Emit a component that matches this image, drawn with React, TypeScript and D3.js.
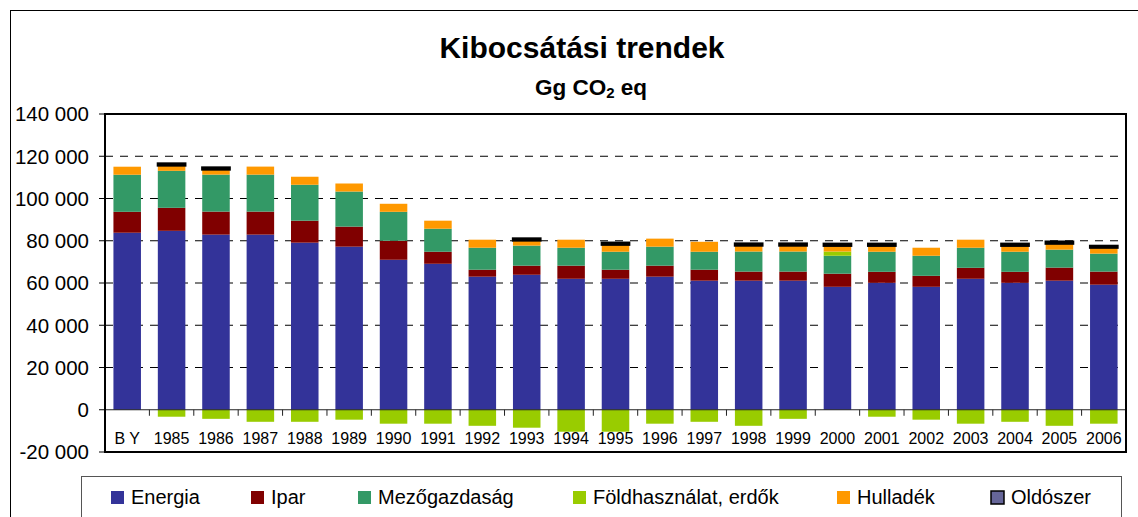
import { scaleBand, scaleLinear, stack, stackOffsetDiverging, formatLocale, range } from "d3";

const width = 1138;
const height = 517;

const categories = ["B Y", "1985", "1986", "1987", "1988", "1989", "1990", "1991", "1992", "1993", "1994", "1995", "1996", "1997", "1998", "1999", "2000", "2001", "2002", "2003", "2004", "2005", "2006"];

const energia = [83800, 84700, 82900, 82900, 79100, 77200, 71000, 69100, 63000, 63900, 62000, 62000, 63000, 61100, 61100, 61100, 58200, 60100, 58200, 62000, 60100, 61100, 59200];
const ipar = [9900, 10900, 10900, 10900, 10400, 9500, 9000, 5700, 3300, 4300, 6200, 4300, 5200, 5200, 4300, 4300, 6200, 5200, 5200, 5200, 5200, 6200, 6200];
const mezogazdasag = [17550, 17500, 17500, 17500, 17000, 16600, 13700, 10900, 10400, 9500, 8500, 8500, 9000, 8500, 9500, 9500, 8500, 9500, 9500, 9500, 9500, 8500, 8500];
const foldhasznalat = [0, -3300, -4300, -5700, -5700, -4700, -6600, -6600, -7600, -8500, -10400, -10400, -6600, -5700, -7600, -4300, 2000, -3300, -4700, -6600, -5700, -7600, -6600];
const hulladek = [3800, 2500, 2400, 3800, 3800, 3800, 3800, 3800, 3800, 2400, 3800, 3300, 3800, 4700, 2800, 2800, 2700, 2800, 3800, 3800, 2800, 2800, 2800];
const oldoszer = [0, 1000, 1000, 0, 0, 0, 0, 0, 0, 1000, 0, 1000, 0, 0, 1000, 1000, 1000, 1000, 0, 0, 1000, 1000, 900];

const seriesNames = ["Energia", "Ipar", "Mezőgazdaság", "Földhasználat, erdők", "Hulladék", "Oldószer"];
const seriesValues = [energia, ipar, mezogazdasag, foldhasznalat, hulladek, oldoszer];
const seriesColors = ["#333399", "#800000", "#339966", "#99cc00", "#ff9900", "#666699"];

const yTicks = range(-20000, 140001, 20000);

// legend item left edges (layout only)
const legendX = [111, 251, 358, 573, 837, 991];

const font = "'Liberation Sans', Arial, sans-serif";

const plotLeft = 105;
const plotRight = 1126;
const plotTop = 114;
const plotBottom = 452;

const fmt = formatLocale({ decimal: ",", thousands: " ", grouping: [3], currency: ["", ""], minus: "-" }).format(",d");

const rows = categories.map((c, i) => {
  const row: Record<string, number | string> = { cat: c };
  seriesNames.forEach((s, k) => (row[s] = seriesValues[k][i]));
  return row;
});

const stacked = stack<any>().keys(seriesNames).offset(stackOffsetDiverging)(rows);

const x = scaleBand<string>()
  .domain(categories)
  .range([plotLeft, plotRight])
  .paddingInner(0.38)
  .paddingOuter(0.19);

const y = scaleLinear().domain([-20000, 140000]).range([plotBottom, plotTop]);

export default function App() {
  return (
    <svg
      width={width}
      height={height}
      style={{ position: "absolute", left: 0, top: 0, display: "block", background: "#fff" }}
      fontFamily={font}
    >
      <rect x={10.5} y={10.5} width={1140} height={520} fill="#fff" stroke="#000" strokeWidth={1} />

      <text x={582} y={58} textAnchor="middle" fontSize={30} fontWeight="bold">
        Kibocsátási trendek
      </text>
      <text x={591} y={95} textAnchor="middle" fontSize={22.5} fontWeight="bold">
        Gg CO<tspan fontSize={15} dy={3}>2</tspan>
        <tspan dy={-3}> eq</tspan>
      </text>

      {/* gridlines */}
      {yTicks
        .filter((t) => t > 0 && t < 140000)
        .map((t) => (
          <line
            key={"g" + t}
            x1={plotLeft}
            x2={plotRight}
            y1={y(t)}
            y2={y(t)}
            stroke="#000"
            strokeWidth={1}
            strokeDasharray="8,7"
          />
        ))}

      {/* bars */}
      {stacked.map((layer, k) => (
        <g key={layer.key} fill={seriesColors[k]}>
          {layer.map((d, i) => {
            const v = seriesValues[k][i];
            if (!v) return null;
            const y0 = y(d[1]);
            const y1 = y(d[0]);
            return (
              <rect
                key={i}
                x={x(categories[i])}
                y={y0}
                width={x.bandwidth()}
                height={y1 - y0}
                stroke={k === 5 ? "#000" : "none"}
                strokeWidth={k === 5 ? 2.2 : 0}
              />
            );
          })}
        </g>
      ))}

      {/* zero axis and category ticks */}
      <line x1={plotLeft} x2={plotRight} y1={y(0)} y2={y(0)} stroke="#222" strokeWidth={1} />
      {categories.slice(1).map((c) => {
        const bx = (x(c) as number) - (x.step() - x.bandwidth()) / 2;
        return <line key={"t" + c} x1={bx} x2={bx} y1={y(0)} y2={y(0) + 6} stroke="#222" strokeWidth={1} />;
      })}

      {/* plot border */}
      <rect
        x={plotLeft}
        y={plotTop}
        width={plotRight - plotLeft}
        height={plotBottom - plotTop}
        fill="none"
        stroke="#000"
        strokeWidth={2}
      />

      {/* y axis */}
      {yTicks.map((t) => (
        <g key={"y" + t}>
          <line x1={plotLeft - 6} x2={plotLeft} y1={y(t)} y2={y(t)} stroke="#000" strokeWidth={1} />
          <text x={89} y={y(t)} dy="0.36em" textAnchor="end" fontSize={20.5} fill="#000">
            {fmt(t)}
          </text>
        </g>
      ))}

      {/* x labels */}
      {categories.map((c) => (
        <text
          key={"x" + c}
          x={(x(c) as number) + x.bandwidth() / 2}
          y={444}
          textAnchor="middle"
          fontSize={16}
          fill="#000"
        >
          {c}
        </text>
      ))}

      {/* legend */}
      <rect x={81.5} y={476.5} width={1040} height={60} fill="#fff" stroke="#555" strokeWidth={1} />
      {seriesNames.map((s, k) => (
        <g key={"l" + s} transform={`translate(${legendX[k]},491)`}>
          <rect
            x={0}
            y={0}
            width={13}
            height={13}
            fill={seriesColors[k]}
            stroke={k === 5 ? "#000" : "none"}
            strokeWidth={k === 5 ? 1.5 : 0}
          />
          <text x={20} y={12.5} fontSize={20} fill="#000">
            {s}
          </text>
        </g>
      ))}
    </svg>
  );
}
